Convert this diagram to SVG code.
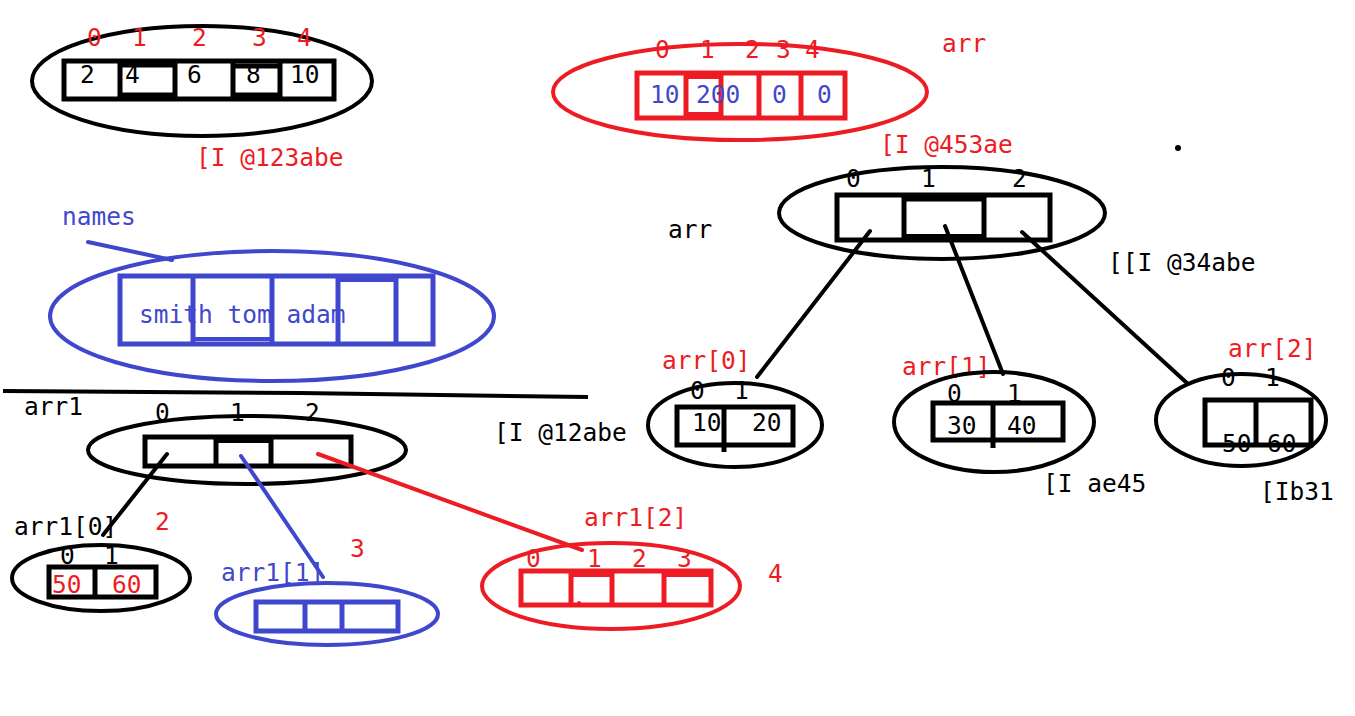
<svg xmlns="http://www.w3.org/2000/svg" width="1355" height="716" viewBox="0 0 1355 716">
<style>
text{font-family:"DejaVu Sans Mono","Liberation Mono",monospace;font-size:24.5px}
.k{fill:#000}.r{fill:#ED1C24}.b{fill:#3F48CC}
.ek{fill:none;stroke:#000;stroke-width:4}
.er{fill:none;stroke:#ED1C24;stroke-width:4}
.eb{fill:none;stroke:#3F48CC;stroke-width:4}
.bk{fill:none;stroke:#000;stroke-width:5}
.br{fill:none;stroke:#ED1C24;stroke-width:5}
.bb{fill:none;stroke:#3F48CC;stroke-width:5}
.lk{stroke:#000;stroke-width:4;stroke-linecap:round}
.lb{stroke:#3F48CC;stroke-width:4;stroke-linecap:round}
.lr{stroke:#ED1C24;stroke-width:4;stroke-linecap:round}
</style>
<rect width="1355" height="716" fill="#fff"/>

<g id="top-array">
<ellipse class="ek" cx="202" cy="81" rx="170" ry="55"/>
<rect class="bk" x="64" y="61" width="270" height="38"/>
<line class="bk" x1="120" y1="61" x2="120" y2="99"/>
<line class="bk" x1="175" y1="61" x2="175" y2="99"/>
<line class="bk" x1="233" y1="61" x2="233" y2="99"/>
<line class="bk" x1="280" y1="61" x2="280" y2="99"/>
<line stroke="#000" stroke-width="5" x1="120" y1="65" x2="175" y2="65"/>
<line stroke="#000" stroke-width="5" x1="120" y1="95" x2="175" y2="95"/>
<line stroke="#000" stroke-width="5" x1="233" y1="66" x2="280" y2="66"/>
<line stroke="#000" stroke-width="5" x1="233" y1="95" x2="280" y2="95"/>
<text class="k" x="80" y="83">2</text>
<text class="k" x="125" y="83">4</text>
<text class="k" x="187" y="83">6</text>
<text class="k" x="246" y="83">8</text>
<text class="k" x="290" y="83">10</text>
<text class="r" x="87" y="46">0</text>
<text class="r" x="132" y="46">1</text>
<text class="r" x="192" y="46">2</text>
<text class="r" x="252" y="46">3</text>
<text class="r" x="297" y="46">4</text>
<text class="r" x="196" y="166">[I @123abe</text>
</g>

<g id="red-arr">
<ellipse class="er" cx="740" cy="92" rx="187" ry="48"/>
<rect class="br" x="637" y="73" width="208" height="45"/>
<line class="br" x1="686" y1="73" x2="686" y2="118"/>
<line class="br" x1="721" y1="73" x2="721" y2="118"/>
<line class="br" x1="759" y1="73" x2="759" y2="118"/>
<line class="br" x1="801" y1="73" x2="801" y2="118"/>
<line stroke="#ED1C24" stroke-width="4" x1="686" y1="77" x2="721" y2="77"/>
<line stroke="#ED1C24" stroke-width="4" x1="686" y1="114" x2="721" y2="114"/>
<text class="b" x="650" y="103">10</text>
<text class="b" x="696" y="103">200</text>
<text class="b" x="772" y="103">0</text>
<text class="b" x="817" y="103">0</text>
<text class="r" x="655" y="58">0</text>
<text class="r" x="700" y="58">1</text>
<text class="r" x="745" y="58">2</text>
<text class="r" x="776" y="58">3</text>
<text class="r" x="805" y="58">4</text>
<text class="r" x="942" y="52">arr</text>
<text class="r" x="880" y="153">[I @453ae</text>
<circle cx="1178" cy="148" r="3" fill="#000"/>
</g>

<g id="names">
<text class="b" x="62" y="225">names</text>
<line class="lb" x1="88" y1="242" x2="172" y2="260" stroke-width="5"/>
<ellipse class="eb" cx="272" cy="316" rx="222" ry="65"/>
<rect class="bb" x="120" y="276" width="313" height="68"/>
<line class="bb" x1="193" y1="276" x2="193" y2="344"/>
<line class="bb" x1="272" y1="276" x2="272" y2="344"/>
<line class="bb" x1="338" y1="276" x2="338" y2="344"/>
<line class="bb" x1="396" y1="276" x2="396" y2="344"/>
<line stroke="#3F48CC" stroke-width="4" x1="193" y1="339" x2="272" y2="339"/>
<line stroke="#3F48CC" stroke-width="4" x1="338" y1="280" x2="396" y2="280"/>
<text class="b" x="139" y="323">smith tom adam</text>
</g>

<g id="divider">
<path d="M3 391 L300 393 L588 397" fill="none" stroke="#000" stroke-width="4"/>
</g>

<g id="arr">
<text class="k" x="668" y="238">arr</text>
<ellipse class="ek" cx="942" cy="213" rx="163" ry="46"/>
<rect class="bk" x="837" y="195" width="213" height="45"/>
<line class="bk" x1="904" y1="195" x2="904" y2="240"/>
<line class="bk" x1="984" y1="195" x2="984" y2="240"/>
<line stroke="#000" stroke-width="5" x1="904" y1="199" x2="984" y2="199"/>
<line stroke="#000" stroke-width="4" x1="904" y1="236" x2="984" y2="236"/>
<text class="k" x="846" y="187">0</text>
<text class="k" x="921" y="187">1</text>
<text class="k" x="1012" y="187">2</text>
<text class="k" x="1108" y="271">[[I @34abe</text>
</g>

<g id="arr0">
<text class="r" x="662" y="369">arr[0]</text>
<ellipse class="ek" cx="735" cy="425" rx="87" ry="42"/>
<rect class="bk" x="677" y="407" width="116" height="38"/>
<line class="bk" x1="724" y1="407" x2="724" y2="452"/>
<text class="k" x="690" y="399">0</text>
<text class="k" x="734" y="399">1</text>
<text class="k" x="692" y="431">10</text>
<text class="k" x="752" y="431">20</text>
</g>

<g id="arr1">
<text class="r" x="902" y="375">arr[1]</text>
<ellipse class="ek" cx="994" cy="422" rx="100" ry="50"/>
<rect class="bk" x="933" y="403" width="130" height="37"/>
<line class="bk" x1="993" y1="403" x2="993" y2="448"/>
<text class="k" x="947" y="402">0</text>
<text class="k" x="1007" y="402">1</text>
<text class="k" x="947" y="434">30</text>
<text class="k" x="1007" y="434">40</text>
<text class="k" x="1043" y="492">[I ae45</text>
</g>

<g id="arr2">
<text class="r" x="1228" y="357">arr[2]</text>
<ellipse class="ek" cx="1241" cy="420" rx="85" ry="46"/>
<rect class="bk" x="1205" y="400" width="106" height="45"/>
<line class="bk" x1="1256" y1="400" x2="1256" y2="447"/>
<text class="k" x="1221" y="386">0</text>
<text class="k" x="1265" y="386">1</text>
<text class="k" x="1222" y="452">50</text>
<text class="k" x="1267" y="452">60</text>
<text class="k" x="1260" y="500">[Ib31</text>
</g>

<g id="arr1-main">
<text class="k" x="24" y="415">arr1</text>
<ellipse class="ek" cx="247" cy="450" rx="159" ry="34"/>
<rect class="bk" x="145" y="437" width="206" height="29"/>
<line class="bk" x1="216" y1="437" x2="216" y2="466"/>
<line class="bk" x1="271" y1="437" x2="271" y2="466"/>
<line stroke="#000" stroke-width="4" x1="216" y1="441" x2="271" y2="441"/>
<text class="k" x="155" y="421">0</text>
<text class="k" x="230" y="421">1</text>
<text class="k" x="305" y="421">2</text>
<text class="k" x="494" y="441">[I @12abe</text>
</g>

<g id="arr1-0">
<text class="k" x="14" y="535">arr1[0]</text>
<text class="r" x="155" y="530">2</text>
<ellipse class="ek" cx="101" cy="578" rx="89" ry="33"/>
<rect class="bk" x="49" y="567" width="107" height="30"/>
<line class="bk" x1="95" y1="567" x2="95" y2="597"/>
<text class="k" x="60" y="564">0</text>
<text class="k" x="104" y="564">1</text>
<text class="r" x="52" y="593" font-size="23">50</text>
<text class="r" x="112" y="593" font-size="23">60</text>
</g>

<g id="arr1-1">
<text class="b" x="221" y="581">arr1[1]</text>
<text class="r" x="350" y="557">3</text>
<ellipse class="eb" cx="327" cy="614" rx="111" ry="31"/>
<rect class="bb" x="256" y="602" width="142" height="29"/>
<line class="bb" x1="305" y1="602" x2="305" y2="631"/>
<line class="bb" x1="342" y1="602" x2="342" y2="631"/>
</g>

<g id="arr1-2">
<text class="r" x="584" y="526">arr1[2]</text>
<text class="r" x="768" y="582">4</text>
<ellipse class="er" cx="611" cy="586" rx="129" ry="43"/>
<rect class="br" x="521" y="571" width="190" height="34"/>
<line class="br" x1="571" y1="571" x2="571" y2="605"/>
<line class="br" x1="612" y1="571" x2="612" y2="605"/>
<line class="br" x1="664" y1="571" x2="664" y2="605"/>
<line stroke="#ED1C24" stroke-width="4" x1="571" y1="575" x2="612" y2="575"/>
<line stroke="#ED1C24" stroke-width="4" x1="664" y1="575" x2="711" y2="575"/>
<text class="r" x="526" y="567">0</text>
<text class="r" x="587" y="567">1</text>
<text class="r" x="632" y="567">2</text>
<text class="r" x="677" y="567">3</text>
<circle cx="579" cy="603" r="2" fill="#ED1C24"/>
</g>

<g id="connectors">
<line class="lk" x1="870" y1="231" x2="757" y2="377"/>
<line class="lk" x1="945" y1="226" x2="1003" y2="374"/>
<line class="lk" x1="1022" y1="232" x2="1188" y2="384"/>
<line class="lk" x1="167" y1="454" x2="103" y2="535"/>
<line class="lb" x1="241" y1="456" x2="323" y2="577"/>
<line class="lr" x1="318" y1="454" x2="582" y2="550"/>
</g>
</svg>
